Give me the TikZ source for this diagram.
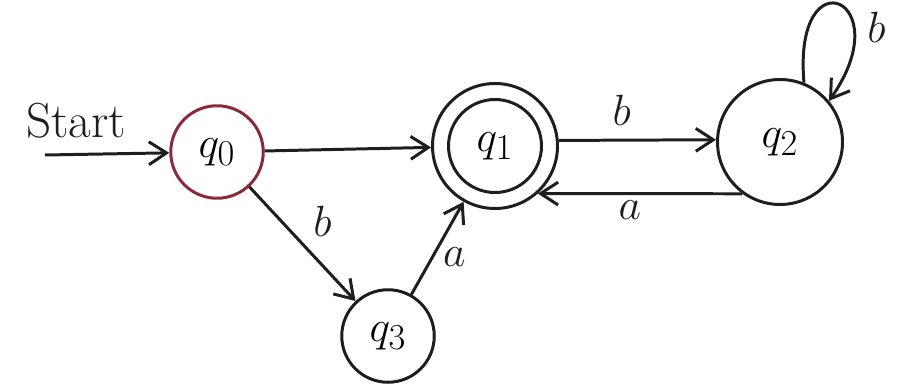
\documentclass[tikz,border=0pt]{standalone}
\usepackage{tikz}
\usetikzlibrary{arrows.meta,positioning}
\definecolor{inkblack}{HTML}{1E1E1E}
\definecolor{startred}{HTML}{8A2B3B}

\begin{document}
\begin{tikzpicture}[x=1.0cm,y=1cm,
    state/.style={circle,draw=inkblack,line width=1.7pt,minimum size=1.85cm,inner sep=0pt,font=\fontsize{28}{32}\selectfont},
    trans/.style={draw=inkblack,line width=1.7pt,-{Straight Barb[length=10pt,width=13pt]}},
    lbl/.style={font=\fontsize{28}{32}\selectfont,text=inkblack}]
    \useasboundingbox (0,0) rectangle (18.02,7.7);
    % states
    \node[state,draw=startred] (q0) at (4.34,4.66) {$q_0$};
    \node[state,minimum size=2.5cm] (q1) at (9.9,4.78) {$q_1$};
    \draw[inkblack,line width=1.7pt] (q1.center) circle (0.93);
    \node[state,minimum size=2.5cm] (q2) at (15.6,4.86) {$q_2$};
    \node[state] (q3) at (7.76,0.98) {$q_3$};
    % start arrow
    \coordinate (in) at (0.9,4.6);
    \draw[trans] (in) -- node[lbl,above=5pt,pos=.25] {Start} (q0);
    % transitions
    \draw[trans] (q0) -- (q1);
    \draw[trans] (q0) -- node[lbl,pos=.5,above right=0pt and 2pt] {$b$} (q3);
    \draw[trans] (q3) -- node[lbl,pos=.4,right=2pt] {$a$} (q1);
    \draw[trans] (q1.5) -- node[lbl,pos=.4,above=4pt] {$b$} (q2.178);
    \draw[trans] (q2.234) -- node[lbl,pos=.55,below] {$a$} (q1.-48);
    \draw[trans] (q2.68) .. controls +(95:2.6) and +(55:2.5) .. node[lbl,pos=.7,right=4pt] {$b$} (q2.40);
\end{tikzpicture}
\end{document}
